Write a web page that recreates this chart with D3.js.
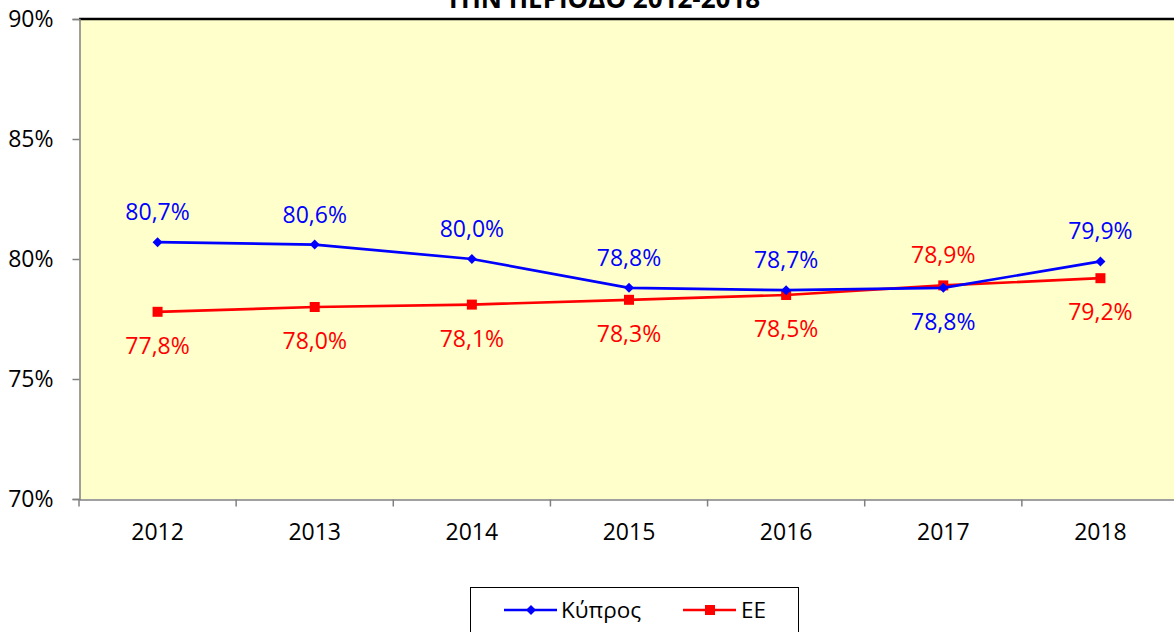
<!DOCTYPE html>
<html>
<meta charset="utf-8">
<style>
  body { margin: 0; background: #fff; }
  svg { width: 1174px; height: 632px; display: block; }
  text { font-family: "Open Sans", "Noto Sans", sans-serif; }
</style>
<body>
  <svg></svg>
</body>
<script src="https://d3js.org/d3.v7.min.js"></script>
<script>

  var years = ["2012", "2013", "2014", "2015", "2016", "2017", "2018"];
  var cyprus = [80.7, 80.6, 80.0, 78.8, 78.7, 78.8, 79.9];
  var eu = [77.8, 78.0, 78.1, 78.3, 78.5, 78.9, 79.2];
  var yTicks = [70, 75, 80, 85, 90];
  var title = "ΤΗΝ ΠΕΡΙΟΔΟ 2012-2018";
  var seriesNames = ["Κύπρος", "ΕΕ"];
  // label above (-1) or below (+1) each point
  var cyprusSide = [-1, -1, -1, -1, -1, 1, -1];
  var euSide = [1, 1, 1, 1, 1, -1, 1];

  var plotLeft = 79, plotRight = 1179, plotTop = 19, plotBottom = 499;

  var svg = d3.select("svg");

  var x = d3.scaleBand().domain(years).range([plotLeft, plotRight]);
  var y = d3.scaleLinear().domain([70, 90]).range([plotBottom, plotTop]);

  // plot area
  svg.append("rect")
    .attr("x", plotLeft).attr("y", plotTop)
    .attr("width", plotRight - plotLeft).attr("height", plotBottom - plotTop)
    .attr("fill", "#ffffcc");

  svg.append("line")
    .attr("x1", plotLeft).attr("x2", plotRight).attr("y1", plotTop).attr("y2", plotTop)
    .attr("stroke", "#000").attr("stroke-width", 2.5);

  // y axis
  var yAxis = d3.axisLeft(y).tickValues(yTicks).tickSize(7).tickPadding(19)
    .tickFormat(function(d) { return d + "%"; });
  var gy = svg.append("g").attr("transform", "translate(" + (plotLeft + 0.5) + ",0)").call(yAxis);
  gy.select(".domain").attr("stroke", "#808080").attr("stroke-width", 1.5);
  gy.selectAll(".tick line").attr("stroke", "#808080").attr("stroke-width", 1.5);
  gy.selectAll(".tick text").attr("font-size", 23).attr("fill", "#000")
    .attr("font-family", "Open Sans, sans-serif");

  // x axis
  var xAxis = d3.axisBottom(x).tickSize(0).tickPadding(24);
  var gx = svg.append("g").attr("transform", "translate(0," + (plotBottom + 0.5) + ")").call(xAxis);
  gx.select(".domain").attr("stroke", "#808080").attr("stroke-width", 1.5);
  gx.selectAll(".tick text").attr("font-size", 23).attr("fill", "#000")
    .attr("font-family", "Open Sans, sans-serif");
  gx.selectAll(".sep")
    .data(years)
    .enter().append("line")
    .attr("class", "sep")
    .attr("x1", function(d) { return x(d); }).attr("x2", function(d) { return x(d); })
    .attr("y1", 0).attr("y2", 7)
    .attr("stroke", "#808080").attr("stroke-width", 1.5);

  // title (partly cut off at the top)
  svg.append("text")
    .attr("x", 603).attr("y", 8)
    .attr("text-anchor", "middle")
    .attr("font-size", 26).attr("font-weight", "bold")
    .text(title);

  var cx = function(d, i) { return x(years[i]) + x.bandwidth() / 2; };

  var line = d3.line()
    .x(function(d, i) { return cx(d, i); })
    .y(function(d) { return y(d); });

  // ΕΕ
  svg.append("path").datum(eu)
    .attr("d", line).attr("fill", "none")
    .attr("stroke", "#ff0000").attr("stroke-width", 2.7);
  svg.selectAll(".sq").data(eu).enter().append("rect")
    .attr("class", "sq")
    .attr("x", function(d, i) { return cx(d, i) - 5; })
    .attr("y", function(d) { return y(d) - 5; })
    .attr("width", 10).attr("height", 10)
    .attr("fill", "#ff0000");

  // Κύπρος
  svg.append("path").datum(cyprus)
    .attr("d", line).attr("fill", "none")
    .attr("stroke", "#0000ff").attr("stroke-width", 2.7);
  svg.selectAll(".dm").data(cyprus).enter().append("path")
    .attr("class", "dm")
    .attr("d", "M0,-5L5,0L0,5L-5,0Z")
    .attr("transform", function(d, i) { return "translate(" + cx(d, i) + "," + y(d) + ")"; })
    .attr("fill", "#0000ff");

  var fmt = function(d) { return d.toFixed(1).replace(".", ",") + "%"; };

  svg.selectAll(".lc").data(cyprus).enter().append("text")
    .attr("class", "lc")
    .attr("x", function(d, i) { return cx(d, i); })
    .attr("y", function(d, i) { return y(d) + (cyprusSide[i] < 0 ? -22 : 42); })
    .attr("text-anchor", "middle").attr("font-size", 23)
    .attr("fill", "#0000ff")
    .text(fmt);

  svg.selectAll(".le").data(eu).enter().append("text")
    .attr("class", "le")
    .attr("x", function(d, i) { return cx(d, i); })
    .attr("y", function(d, i) { return y(d) + (euSide[i] < 0 ? -22 : 42); })
    .attr("text-anchor", "middle").attr("font-size", 23)
    .attr("fill", "#ff0000")
    .text(fmt);

  // legend
  var lg = svg.append("g");
  lg.append("rect")
    .attr("x", 470.5).attr("y", 587.5).attr("width", 328).attr("height", 60)
    .attr("fill", "#fff").attr("stroke", "#000").attr("stroke-width", 1);

  lg.append("line").attr("x1", 504).attr("x2", 557).attr("y1", 610).attr("y2", 610)
    .attr("stroke", "#0000ff").attr("stroke-width", 2.7);
  lg.append("path").attr("d", "M0,-5L5,0L0,5L-5,0Z")
    .attr("transform", "translate(531,610)").attr("fill", "#0000ff");
  lg.append("text").attr("x", 561).attr("y", 618).attr("font-size", 22.5).text(seriesNames[0]);

  lg.append("line").attr("x1", 683).attr("x2", 736).attr("y1", 610).attr("y2", 610)
    .attr("stroke", "#ff0000").attr("stroke-width", 2.7);
  lg.append("rect").attr("x", 705).attr("y", 605).attr("width", 10).attr("height", 10)
    .attr("fill", "#ff0000");
  lg.append("text").attr("x", 741).attr("y", 618).attr("font-size", 22.5).text(seriesNames[1]);

</script>
</html>
